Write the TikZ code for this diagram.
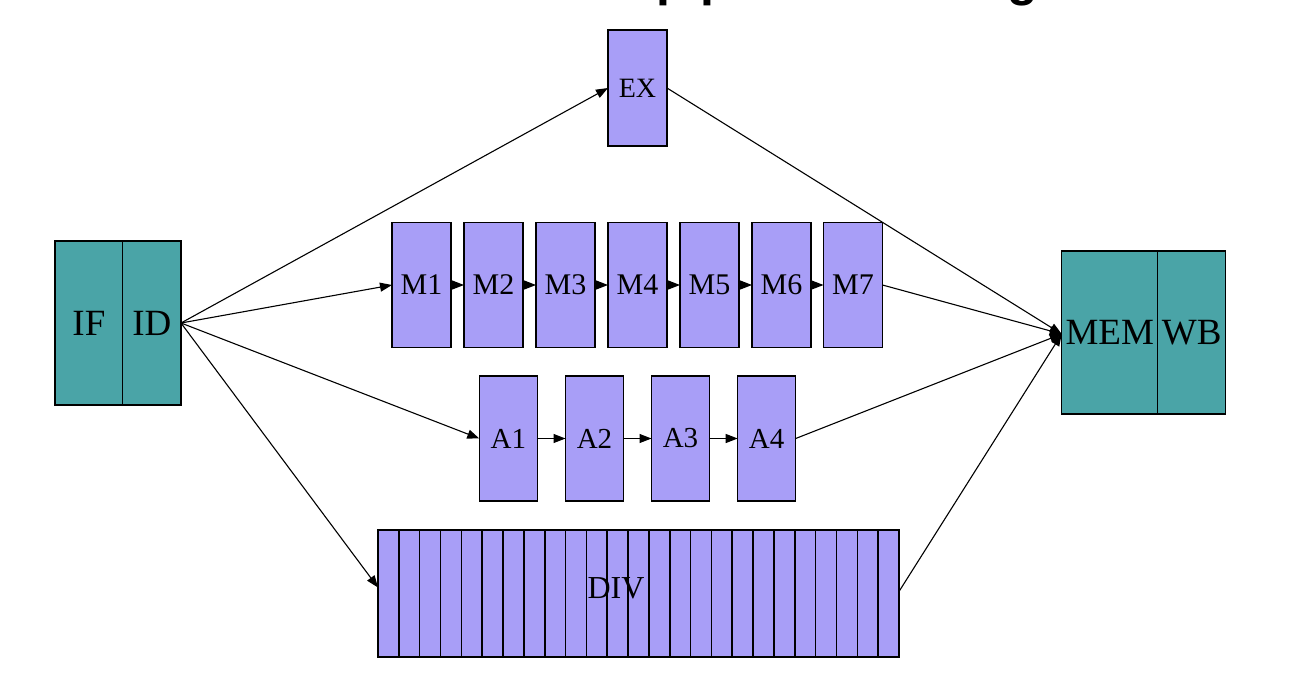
\documentclass[tikz,border=0pt]{standalone}
\usepackage{fontspec}
\setmainfont{Liberation Serif}
\newfontfamily\titlefont{Liberation Sans}
\usetikzlibrary{arrows.meta,calc}
\definecolor{tealfill}{RGB}{74,164,167}
\definecolor{lilac}{RGB}{168,158,247}
\begin{document}
\begin{tikzpicture}[x=0.5pt,y=-0.5pt,
  box/.style={draw=black, line width=0.75pt, inner sep=0pt, outer sep=0pt},
  tealbox/.style={box, fill=tealfill, minimum height=82pt, font=\fontsize{18.5}{18.5}\selectfont},
  stagebox/.style={box, fill=lilac, minimum width=29.5pt, minimum height=62.5pt, font=\fontsize{15}{15}\selectfont},
  abox/.style={stagebox, minimum width=29pt, font=\fontsize{14.5}{14.5}\selectfont},
  conn/.style={line width=0.55pt, -{Triangle[length=6pt,width=4.5pt]}},
  titletext/.style={anchor=base west, inner sep=0pt, font=\titlefont\bfseries\fontsize{25}{25}\selectfont}
]
\useasboundingbox (0,0) rectangle (1292,686);
\begin{scope}
\clip (0,0) rectangle (1292,686);
\node[titletext] (title1) at (656,-4.5) {pipeline};
\node[titletext] (title2) at (887.5,-4.5) {timing};
\end{scope}

% IF / ID
\node[tealbox, minimum width=33.85pt] (if) at (88.9,323) {IF};
\node[tealbox, minimum width=29.15pt] (id) at (151.85,323) {ID};
% MEM / WB
\node[tealbox, minimum width=48pt, minimum height=81.5pt] (mem) at (1109.7,332.5) {MEM};
\node[tealbox, minimum width=34pt, minimum height=81.5pt] (wb) at (1191.7,332.5) {WB};

% EX
\node[stagebox, minimum height=58pt, font=\fontsize{14}{14}\selectfont] (ex) at (637.5,88) {EX};

% M1..M7
\foreach \i/\x in {1/421.5,2/493.5,3/565.5,4/637.5,5/709.5,6/781.5,7/853}
  \node[stagebox] (m\i) at (\x,285) {M\i};
% A1..A4
\foreach \i/\x in {1/508.3,2/594.5,3/680.5,4/766.7}
  \node[abox] (a\i) at (\x,438.5) {A\i};

% DIV
\node[stagebox, minimum width=260.5pt, minimum height=63.5pt] (div) at (638.5,593.5) {};
\foreach \k in {1,...,24}
  \draw[line width=0.8pt] ($(div.north west)+(\k*20.84,0)$) -- ($(div.south west)+(\k*20.84,0)$);
\node[inner sep=0pt, font=\fontsize{16}{16}\selectfont] (divlabel) at (616,588) {DIV};

% from ID
\draw[conn] (id.east) -- (ex.west);
\draw[conn] (id.east) -- (m1.west);
\draw[conn] (id.east) -- (a1.west);
\draw[conn] (id.east) -- ([yshift=3pt]div.west);

% chains
\foreach \i/\j in {1/2,2/3,3/4,4/5,5/6,6/7}
  \draw[conn] (m\i.east) -- (m\j.west);
\foreach \i/\j in {1/2,2/3,3/4}
  \draw[conn] (a\i.east) -- (a\j.west);

% into MEM
\coordinate (memin) at ([yshift=-0.75pt]mem.west);
\draw[conn] (ex.east) -- (memin);
\draw[conn] (m7.east) -- (memin);
\draw[conn] (a4.east) -- (memin);
\draw[conn] ([yshift=1pt]div.east) -- (memin);
\end{tikzpicture}
\end{document}
